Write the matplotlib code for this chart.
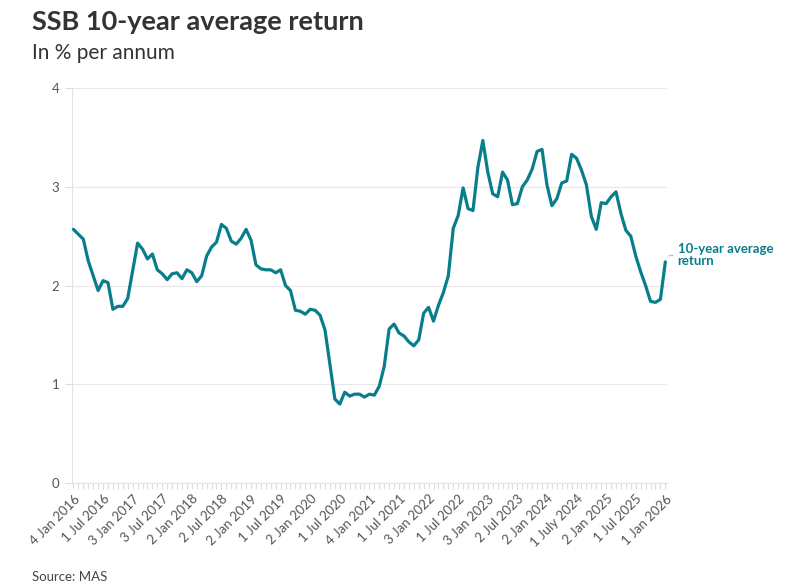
import matplotlib.pyplot as plt

plt.rcParams['font.family'] = ['Lato', 'DejaVu Sans']

# monthly SSB 10-year average return, Jan 2016 .. Jan 2026
returns = [2.57, 2.52, 2.47, 2.25, 2.10, 1.95, 2.05, 2.03, 1.76, 1.79, 1.79, 1.87,
           2.15, 2.43, 2.37, 2.27, 2.32, 2.16, 2.12, 2.06, 2.12, 2.13, 2.07, 2.16,
           2.13, 2.04, 2.10, 2.30, 2.39, 2.44, 2.62, 2.58, 2.45, 2.42, 2.48, 2.57,
           2.46, 2.21, 2.17, 2.16, 2.16, 2.13, 2.16, 2.00, 1.95, 1.75, 1.74, 1.71,
           1.76, 1.75, 1.70, 1.55, 1.20, 0.85, 0.80, 0.92, 0.88, 0.90, 0.90, 0.87,
           0.90, 0.89, 0.98, 1.18, 1.56, 1.61, 1.52, 1.49, 1.43, 1.39, 1.45, 1.72,
           1.78, 1.64, 1.80, 1.93, 2.10, 2.58, 2.71, 2.99, 2.78, 2.76, 3.20, 3.47,
           3.15, 2.93, 2.90, 3.15, 3.07, 2.82, 2.83, 3.00, 3.07, 3.18, 3.36, 3.38,
           3.02, 2.81, 2.88, 3.04, 3.06, 3.33, 3.29, 3.17, 3.02, 2.70, 2.57, 2.84,
           2.83, 2.90, 2.95, 2.73, 2.56, 2.50, 2.30, 2.14, 2.00, 1.84, 1.83, 1.86,
           2.24]

tick_labels = ["4 Jan 2016", "1 Jul 2016", "3 Jan 2017", "3 Jul 2017", "2 Jan 2018",
               "2 Jul 2018", "2 Jan 2019", "1 Jul 2019", "2 Jan 2020", "1 Jul 2020",
               "4 Jan 2021", "1 Jul 2021", "3 Jan 2022", "1 Jul 2022", "3 Jan 2023",
               "2 Jul 2023", "2 Jan 2024", "1 July 2024", "2 Jan 2025", "1 Jul 2025",
               "1 Jan 2026"]

teal = "#087E8B"
grey = "#555555"

fig = plt.figure(figsize=(7.91, 5.88), dpi=100)
ax = fig.add_axes([0.091, 0.1786, 0.752, 0.6714])

x = list(range(len(returns)))
ax.plot(x, returns, color=teal, lw=2.3, solid_joinstyle='round', solid_capstyle='round', zorder=3)

ax.set_ylim(0, 4)
ax.set_xlim(-0.3, 120.3)
ax.set_yticks([0, 1, 2, 3, 4])
ax.grid(axis='y', color='#e8e8e8', lw=0.9)
ax.set_axisbelow(True)

ax.set_xticks(list(range(0, 121, 6)))
ax.set_xticks(x, minor=True)
ax.set_xticklabels(tick_labels, rotation=45, ha='right', rotation_mode='anchor',
                   fontsize=9.5, color=grey)
ax.tick_params(axis='x', which='both', length=4, color='#dddddd', width=0.8, pad=3)
ax.tick_params(axis='y', length=5, color='#dddddd', labelsize=9.5, labelcolor=grey, pad=4)

for s in ['top', 'right']:
    ax.spines[s].set_visible(False)
ax.spines['left'].set_color('#e3e3e3')
ax.spines['bottom'].set_color('#e3e3e3')

# end label
ax.plot([120.8, 121.3], [2.31, 2.31], color='#bbbbbb', lw=1, clip_on=False)
ax.text(122.5, 2.31, "10-year average\nreturn", color=teal, fontsize=9.5,
        fontweight='bold', va='center', ha='left', linespacing=0.95)

fig.text(0.040, 0.962, "SSB 10-year average return", fontsize=19.5, fontweight='bold',
         color='#333333', va='center', ha='left')
fig.text(0.040, 0.910, "In % per annum", fontsize=15, color='#333333', va='center', ha='left')
fig.text(0.040, 0.019, "Source: MAS", fontsize=9.5, color='#444444', va='center', ha='left')

fig.savefig("out.png", dpi=100)
